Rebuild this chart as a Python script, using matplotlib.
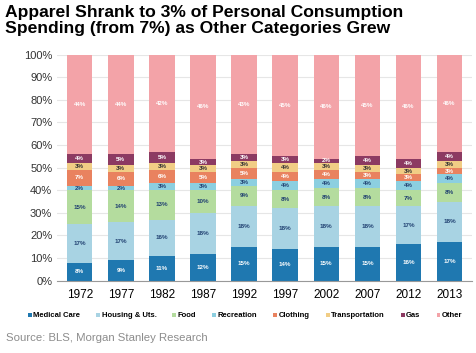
import matplotlib.pyplot as plt
import numpy as np

years = ['1972', '1977', '1982', '1987', '1992', '1997', '2002', '2007', '2012', '2013']
categories = ['Medical Care', 'Housing & Uts.', 'Food', 'Recreation', 'Clothing',
              'Transportation', 'Gas', 'Other']

medical = [8, 9, 11, 12, 15, 14, 15, 15, 16, 17]
housing = [17, 17, 16, 18, 18, 18, 18, 18, 17, 18]
food = [15, 14, 13, 10, 9, 8, 8, 8, 7, 8]
recreation = [2, 2, 3, 3, 3, 4, 4, 4, 4, 4]
clothing = [7, 6, 6, 5, 5, 4, 4, 3, 3, 3]
transportation = [3, 3, 3, 3, 3, 4, 3, 3, 3, 3]
gas = [4, 5, 5, 3, 3, 3, 2, 4, 4, 4]
other = [44, 44, 42, 46, 43, 45, 46, 45, 46, 46]

series = [medical, housing, food, recreation, clothing, transportation, gas, other]
colors = ['#1f78b0', '#a8d3e3', '#b4dc9e', '#8ccfe0', '#e9825f', '#f1cd85', '#8c3a62', '#f3a3a8']
text_colors = ['white', '#1f3f70', '#1f3f70', '#1f3f70', 'white', '#333333', 'white', 'white']

plt.rcParams['font.family'] = ['Liberation Sans', 'DejaVu Sans']

fig = plt.figure(figsize=(4.76, 3.53), dpi=100)
ax = fig.add_axes([0.12, 0.205, 0.872, 0.64])

x = np.arange(len(years))
bottom = np.zeros(len(years))
for i, (vals, col, tc) in enumerate(zip(series, colors, text_colors)):
    vals = np.array(vals, dtype=float)
    # the last segment fills the bar up to 100%
    h = 100 - bottom if i == len(series) - 1 else vals
    ax.bar(x, h, 0.62, bottom=bottom, color=col, label=categories[i], zorder=2)
    for xi, b, hh, v in zip(x, bottom, h, vals):
        ax.text(xi, b + hh / 2, '%d%%' % v,
                ha='center', va='center', fontsize=4.5, fontweight='bold', color=tc)
    bottom = bottom + h

ax.set_ylim(0, 100)
ax.set_xlim(-0.55, len(years) - 0.45)
ax.set_yticks(np.arange(0, 101, 10))
ax.set_yticklabels(['%d%%' % v for v in range(0, 101, 10)], fontsize=8, color='#333333')
ax.set_xticks(x)
ax.set_xticklabels(years, fontsize=8.5)
ax.tick_params(length=0)
ax.tick_params(axis='x', pad=6)
ax.grid(axis='y', color='#e6e6e6', linewidth=0.8, zorder=0)
for s in ['top', 'right', 'left']:
    ax.spines[s].set_visible(False)
ax.spines['bottom'].set_color('#999999')

fig.text(0.01, 0.985, 'Apparel Shrank to 3% of Personal Consumption\nSpending (from 7%) as Other Categories Grew',
         fontsize=12.6, fontweight='bold', va='top', ha='left', linespacing=1.05)

leg = fig.legend(loc='center', bbox_to_anchor=(0.515, 0.105), ncol=8, frameon=False,
                 fontsize=5.5, handlelength=0.5, handleheight=0.5, handletextpad=0.2,
                 columnspacing=2.1)
for t in leg.get_texts():
    t.set_fontweight('bold')

fig.text(0.012, 0.035, 'Source: BLS, Morgan Stanley Research', fontsize=8.2, color='#8c8c8c')

fig.savefig('out.png', dpi=100)
